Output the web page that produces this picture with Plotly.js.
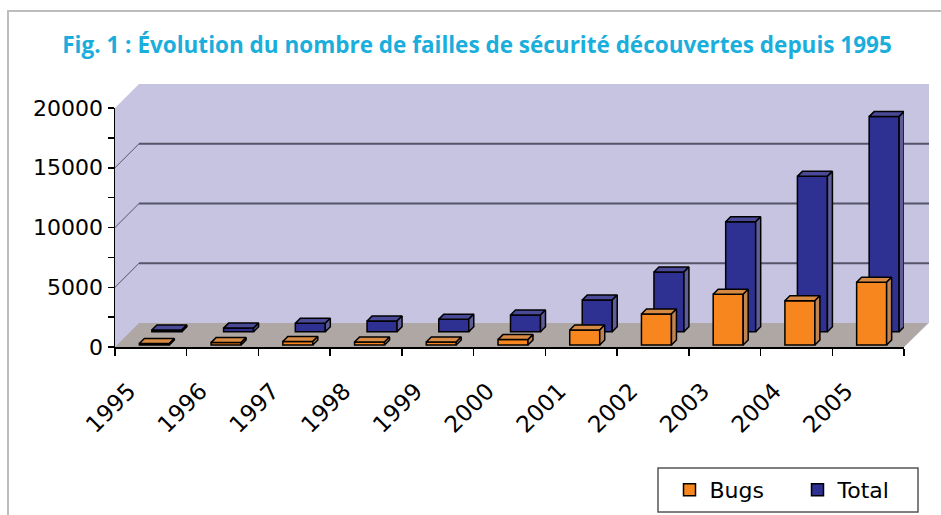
<!DOCTYPE html>
<html>
<head>
<meta charset="utf-8">
<script src="https://cdn.plot.ly/plotly-3.0.1.min.js"></script>
<style>
  html, body { margin: 0; padding: 0; background: #ffffff; }
  #chart { width: 941px; height: 515px; }
</style>
</head>
<body>
<div id="chart"></div>
<script>
// ---- data ----
const years = ['1995', '1996', '1997', '1998', '1999', '2000', '2001', '2002', '2003', '2004', '2005'];
const bugs  = [120, 200, 300, 250, 250, 450, 1250, 2600, 4250, 3700, 5250];
const total = [150, 300, 700, 900, 1050, 1400, 2650, 5000, 9200, 13000, 18000];
const yTicks = [0, 5000, 10000, 15000, 20000];

// ---- geometry (pixels of the 941x515 page) ----
const W = 941, H = 515;
const axL = 115, axR = 904, axB = 347, axT = 108;   // front frame of the plot
const wallDepth = 24;                                // oblique depth of the back wall
const yMax = 20000;
const idx = years.map((_, i) => i);
const xMin = -0.5, xMax = years.length - 0.5;
const pxX = (xMax - xMin) / (axR - axL);  // data units per pixel, x
const pxY = yMax / (axB - axT);           // data units per pixel, y

const px = (x, y) => [(x / W).toFixed(5), (1 - y / H).toFixed(5)];
function pathOf(points) {
  return points.map((p, k) => (k ? 'L' : 'M') + px(p[0], p[1]).join(',')).join(' ') + ' Z';
}

function series3D(name, vals, shiftXpx, shiftYpx, cFront, cTop, cSide, xa, ya) {
  const width = 30 * pxX;
  const off = shiftXpx * pxX - width / 2;
  const base = shiftYpx * pxY;
  const dx = 5 * pxX, dy = 5 * pxY;
  const line = { color: '#000000', width: 1.5 };
  const bar = {
    type: 'bar', name: name, x: idx, y: vals, base: base, width: width, offset: off,
    marker: { color: cFront, line: line }, xaxis: xa, yaxis: ya, cliponaxis: false,
    hovertemplate: name + ' %{customdata}: %{y}<extra></extra>', customdata: years
  };
  const tx = [], ty = [], sxs = [], sys = [];
  vals.forEach((v, i) => {
    const x0 = i + off, x1 = x0 + width, top = base + v;
    tx.push(x0, x1, x1 + dx, x0 + dx, x0, null);
    ty.push(top, top, top + dy, top + dy, top, null);
    sxs.push(x1, x1, x1 + dx, x1 + dx, x1, null);
    sys.push(base, top, top + dy, base + dy, base, null);
  });
  const face = (xs, ys, col) => ({
    type: 'scatter', mode: 'lines', x: xs, y: ys, fill: 'toself', fillcolor: col,
    line: line, showlegend: false, hoverinfo: 'skip', xaxis: xa, yaxis: ya, cliponaxis: false
  });
  return [bar, face(tx, ty, cTop), face(sxs, sys, cSide)];
}

// Total row sits behind (main subplot), Bugs row in front (overlay subplot)
const traces = [].concat(
  series3D('Bugs', bugs, 3.5, 2, '#F7861F', '#D98A42', '#C08352', 'x2', 'y2'),
  series3D('Total', total, 16, 15.3, '#2E3192', '#4B4A98', '#5E5D98', 'x', 'y')
);

// ---- walls, floor and back-wall grid (decoration) ----
const shapes = [];
shapes.push({ type: 'path', xref: 'paper', yref: 'paper', layer: 'below',
  path: pathOf([[axL, axT], [axL + wallDepth, axT - wallDepth], [axR + wallDepth + 1, axT - wallDepth],
                [axR + wallDepth + 1, axB - wallDepth], [axR, axB], [axL, axB]]),
  fillcolor: '#C6C4E1', line: { width: 0 } });
shapes.push({ type: 'path', xref: 'paper', yref: 'paper', layer: 'below',
  path: pathOf([[axL, axB], [axR, axB], [axR + wallDepth, axB - wallDepth], [axL + wallDepth, axB - wallDepth]]),
  fillcolor: '#AFA7A4', line: { width: 0 } });
yTicks.filter(v => v > 0 && v < yMax).forEach(v => {
  const yf = axB - v / pxY, yb = yf - wallDepth;
  const a = px(axL, yf), b = px(axL + wallDepth, yb), c = px(axR + wallDepth + 1, yb);
  shapes.push({ type: 'line', xref: 'paper', yref: 'paper', layer: 'below',
    x0: a[0], y0: a[1], x1: b[0], y1: b[1], line: { color: '#55556A', width: 1 } });
  shapes.push({ type: 'line', xref: 'paper', yref: 'paper', layer: 'below',
    x0: b[0], y0: b[1], x1: c[0], y1: c[1], line: { color: '#55556A', width: 2 } });
});
// outer frame of the figure
shapes.push({ type: 'rect', xref: 'paper', yref: 'paper', layer: 'below',
  x0: 8 / W, y0: -0.1, x1: 1.1, y1: 1 - 11 / H, line: { color: '#BDBDBD', width: 2 }, fillcolor: 'rgba(0,0,0,0)' });
// legend box
shapes.push({ type: 'rect', xref: 'paper', yref: 'paper', layer: 'below',
  x0: 658 / W, y0: 1 - 512 / H, x1: 918 / W, y1: 1 - 468 / H,
  line: { color: '#555555', width: 1.5 }, fillcolor: '#ffffff' });

const xTickFont = { family: 'DejaVu Sans, sans-serif', size: 23, color: '#000000' };
const yTickFont = { family: 'DejaVu Sans, sans-serif', size: 22, color: '#000000' };
const boundaries = years.map((_, i) => i - 0.5).concat([years.length - 0.5]);

const layout = {
  width: W, height: H,
  margin: { l: 0, r: 0, t: 0, b: 0, pad: 0 },
  paper_bgcolor: '#ffffff', plot_bgcolor: 'rgba(0,0,0,0)',
  showlegend: true,
  title: {
    text: '<b>Fig. 1 : Évolution du nombre de failles de sécurité découvertes depuis 1995</b>',
    font: { family: 'Open Sans, Lato, sans-serif', size: 22.5, color: '#19AEDC' },
    x: 477 / W, xanchor: 'center', y: 1 - 45 / H, yanchor: 'middle', xref: 'paper', yref: 'paper'
  },
  xaxis: {
    domain: [axL / W, axR / W], range: [xMin, xMax], fixedrange: true,
    tickmode: 'array', tickvals: idx, ticktext: years, ticks: '', tickangle: -45,
    tickfont: xTickFont, ticklabelstandoff: 20, ticklabelshift: -22,
    showline: true, linecolor: '#000000', linewidth: 1.5, showgrid: false, zeroline: false,
    minor: { tickmode: 'array', tickvals: boundaries, ticks: 'outside', ticklen: 7,
             tickcolor: '#000000', tickwidth: 1.5, showgrid: false }
  },
  yaxis: {
    domain: [1 - axB / H, 1 - axT / H], range: [0, yMax], fixedrange: true,
    tickmode: 'array', tickvals: yTicks, ticktext: yTicks.map(String),
    ticks: 'outside', ticklen: 6, tickcolor: '#000000', tickwidth: 1.5, tickfont: yTickFont,
    showline: true, linecolor: '#000000', linewidth: 1.5, showgrid: false, zeroline: false,
    minor: { tickmode: 'linear', tick0: 0, dtick: 2500, ticks: 'outside', ticklen: 6,
             tickcolor: '#000000', tickwidth: 1.5, showgrid: false }
  },
  xaxis2: { overlaying: 'x', range: [xMin, xMax], visible: false, fixedrange: true },
  yaxis2: { overlaying: 'y', range: [0, yMax], visible: false, fixedrange: true },
  legend: {
    orientation: 'h', x: 669.5 / W, xanchor: 'left', y: 1 - 490 / H, yanchor: 'middle',
    bgcolor: 'rgba(0,0,0,0)', borderwidth: 0,
    font: { family: 'DejaVu Sans, sans-serif', size: 22, color: '#000000' },
    entrywidth: 83, traceorder: 'normal'
  },
  shapes: shapes,
  bargap: 0
};

Plotly.newPlot('chart', traces, layout, { displayModeBar: false, staticPlot: true });
</script>
</body>
</html>
